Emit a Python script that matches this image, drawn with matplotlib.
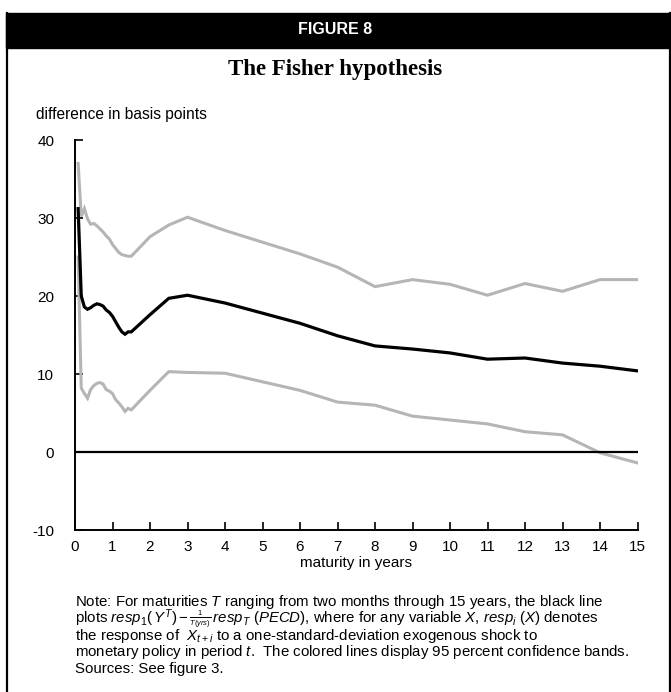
import matplotlib
matplotlib.use("Agg")
import matplotlib.pyplot as plt
from matplotlib.patches import Rectangle
from matplotlib.lines import Line2D


# ----------------------
# data
# ----------------------
months = [1, 2, 3, 4, 5, 6, 7, 8, 9, 10, 11, 12, 13, 14, 15, 16, 17, 18]
years = [2, 2.5, 3, 4, 5, 6, 7, 8, 9, 10, 11, 12, 13, 14, 15]
maturity = [m / 12 for m in months] + years

response = [31.2, 20.0, 18.6, 18.3, 18.5, 18.8, 19.0, 18.9, 18.7, 18.2, 17.9, 17.4,
            16.7, 16.0, 15.4, 15.1, 15.4, 15.4,
            17.6, 19.7, 20.1, 19.1, 17.8, 16.5, 14.9, 13.6, 13.2, 12.7, 11.9, 12.05,
            11.4, 11.0, 10.4]

upper = [37.0, 30.2, 31.2, 29.9, 29.2, 29.3, 29.0, 28.6, 28.2, 27.7, 27.3, 26.6,
         26.1, 25.6, 25.3, 25.2, 25.1, 25.1,
         27.6, 29.1, 30.1, 28.4, 26.9, 25.4, 23.7, 21.2, 22.1, 21.5, 20.1, 21.6,
         20.6, 22.1, 22.1]

lower = [25.0, 8.2, 7.5, 6.9, 8.0, 8.5, 8.8, 8.9, 8.7, 8.0, 7.8, 7.5,
         6.7, 6.3, 5.8, 5.2, 5.6, 5.4,
         7.9, 10.3, 10.2, 10.1, 9.0, 7.9, 6.4, 6.0, 4.6, 4.1, 3.6, 2.6,
         2.2, -0.1, -1.4]

yticks = [-10, 0, 10, 20, 30, 40]
xticks = list(range(0, 16))


# ----------------------
# fonts
# ----------------------
plt.rcParams["font.family"] = ["Liberation Sans", "DejaVu Sans"]
plt.rcParams["mathtext.fontset"] = "custom"
plt.rcParams["mathtext.rm"] = "Liberation Sans"
plt.rcParams["mathtext.it"] = "Liberation Sans:italic"
plt.rcParams["mathtext.bf"] = "Liberation Sans:bold"
plt.rcParams["axes.unicode_minus"] = False

W, H = 671, 692
fig = plt.figure(figsize=(W / 100, H / 100), dpi=100)


def fx(px):
    return px / W


def fy(py):
    return 1 - py / H


# ----------------------
# frame and header band
# ----------------------
fig.patches.append(Rectangle((fx(6), fy(48)), fx(665), fy(13) - fy(48),
                             transform=fig.transFigure, color="black", zorder=0))
fig.lines.append(Line2D([fx(7), fx(7)], [fy(13), 0], transform=fig.transFigure,
                        color="black", lw=1.6))
fig.lines.append(Line2D([fx(669.5), fx(669.5)], [fy(13), 0], transform=fig.transFigure,
                        color="black", lw=1.6))

fig.text(0.5, fy(30), "FIGURE 8", color="white", fontsize=11.5, fontweight="heavy",
         ha="center", va="center")
fig.text(0.5, fy(70), "The Fisher hypothesis", fontsize=16.5, fontweight="bold",
         family="Liberation Serif", ha="center", va="center")


# ----------------------
# chart
# ----------------------
ax = fig.add_axes([fx(75), fy(530), fx(562.5), fy(140) - fy(530)])

ax.plot(maturity, upper, color="#b5b5b5", lw=2.2, solid_joinstyle="miter")
ax.plot(maturity, lower, color="#b5b5b5", lw=2.2, solid_joinstyle="miter")
ax.plot(maturity, response, color="black", lw=2.3, solid_joinstyle="miter")
ax.axhline(0, color="black", lw=1.6)

ax.set_xlim(0, 15)
ax.set_ylim(-10, 40)
ax.set_xticks(xticks)
ax.set_yticks(yticks)
ax.tick_params(axis="y", direction="in", length=6, width=1.2, pad=15, labelsize=11)
ax.tick_params(axis="x", direction="in", length=6, width=1.2, pad=7, labelsize=11)

for side in ["top", "right"]:
    ax.spines[side].set_visible(False)
for side in ["left", "bottom"]:
    ax.spines[side].set_linewidth(1.4)

ax.set_xlabel("maturity in years", fontsize=11, labelpad=2)
fig.text(fx(36), fy(115), "difference in basis points", fontsize=11.2,
         ha="left", va="center")


# ----------------------
# note
# ----------------------
note_lines = [
    r"Note: For maturities $T$ ranging from two months through 15 years, the black line",
    r"plots $resp_1(\,Y^T)-\genfrac{}{}{0.5}{2}{1}{T(yrs)}\,resp_T\ (PECD)$, where for any variable $X$, $resp_i\ (X)$ denotes",
    r"the response of  $X_{t+i}$ to a one-standard-deviation exogenous shock to",
    r"monetary policy in period $t$.  The colored lines display 95 percent confidence bands.",
    r"Sources: See figure 3.",
]
note_y = [602, 619, 636, 652, 669]

for line, y in zip(note_lines, note_y):
    fig.text(fx(75), fy(y), line, fontsize=10.8, ha="left", va="center")

plt.savefig("out.png", dpi=100)
